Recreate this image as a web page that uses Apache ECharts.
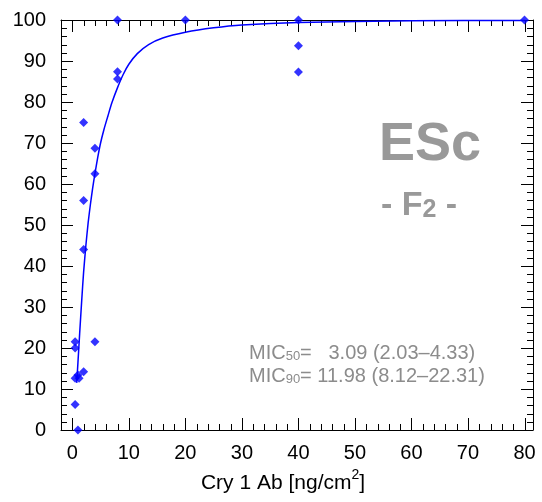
<!DOCTYPE html>
<html><head><meta charset="utf-8">
<script src="https://cdn.jsdelivr.net/npm/echarts@6/dist/echarts.min.js"></script>
<style>html,body{margin:0;padding:0;background:#fff}#c{width:542px;height:502px}</style>
</head><body><div id="c"></div>
<script>
// observed points
const pointX = [0.5, 0.5, 0.5, 0.5, 1, 1.2, 1, 2, 2, 2, 2, 4, 4, 4, 8, 8, 8, 20, 40, 40, 40, 80];
const pointY = [21.5, 20, 12.6, 6.2, 13.4, 12.6, 0, 75, 56, 44, 14.2, 68.7, 62.5, 21.5, 100, 87.4, 85.6, 100, 100, 93.7, 87.3, 100];
// fitted curve
const curveX = [0.78, 1.0, 1.3, 1.66, 2.0, 2.4, 2.8, 3.2, 3.6, 4.0, 4.5, 5.0, 5.6, 6.3, 7.0, 8.0, 9.0, 10.0, 11.5, 13.5, 16, 20, 25, 30, 40, 60, 80];
const curveY = [11.5, 16.5, 23.5, 31.5, 38.5, 45, 50.5, 55, 59, 62.5, 66.5, 70, 73.3, 76.6, 79.8, 83.5, 86.7, 89.2, 91.8, 94, 95.6, 97, 98.1, 98.8, 99.4, 99.8, 99.9];
// tick labels
const xTickLabels = [0, 10, 20, 30, 40, 50, 60, 70, 80];
const yTickLabels = [0, 10, 20, 30, 40, 50, 60, 70, 80, 90, 100];
const minorPerMajor = 5;

// tick marks on all four sides (value, side, isMajor); side: 0 bottom, 1 top, 2 left, 3 right
function minors(majors) {
  const out = [];
  for (let i = 0; i < majors.length - 1; i++)
    for (let k = 1; k < minorPerMajor; k++)
      out.push(majors[i] + k * (majors[i + 1] - majors[i]) / minorPerMajor);
  return out;
}
const tickData = [];
[0, 1].forEach(side => {
  xTickLabels.forEach(v => tickData.push([v, side, 1]));
  minors(xTickLabels).forEach(v => tickData.push([v, side, 0]));
});
[2, 3].forEach(side => {
  yTickLabels.forEach(v => tickData.push([v, side, 1]));
  minors(yTickLabels).forEach(v => tickData.push([v, side, 0]));
});

const FONT = '"Liberation Sans", Arial, Helvetica, sans-serif';
const chart = echarts.init(document.getElementById('c'), null, {renderer: 'canvas'});

function xAx(pos, labels) {
  return {
    type: 'value', min: -2, max: 81.5, splitNumber: 8, position: pos,
    axisLine: {show: true, onZero: false, lineStyle: {color: '#000', width: 1}},
    axisTick: {show: false},
    minorTick: {show: false},
    splitLine: {show: false},
    axisLabel: {show: labels, fontSize: 20, color: '#000', fontFamily: FONT, margin: 13,
      formatter: v => xTickLabels.includes(v) ? String(v) : ''}
  };
}
function yAx(pos, labels) {
  return {
    type: 'value', min: 0, max: 100, interval: 10, position: pos,
    axisLine: {show: true, onZero: false, lineStyle: {color: '#000', width: 1}},
    axisTick: {show: false},
    minorTick: {show: false},
    splitLine: {show: false},
    axisLabel: {show: labels, fontSize: 20, color: '#000', fontFamily: FONT, margin: 15,
      padding: [6, 0, 0, 0],
      formatter: v => yTickLabels.includes(v) ? String(v) : ''}
  };
}

function renderTick(params, api) {
  const cs = params.coordSys;
  const v = api.value(0), side = api.value(1), len = api.value(2) ? 12 : 6;
  let shape;
  if (side === 0 || side === 1) {
    const px = Math.round(api.coord([v, 50])[0]) + 0.5;
    const yEdge = side === 0 ? cs.y + cs.height : cs.y;
    shape = {x1: px, y1: yEdge, x2: px, y2: side === 0 ? yEdge - len : yEdge + len};
  } else {
    const py = Math.round(api.coord([40, v])[1]) + 0.5;
    const xEdge = side === 2 ? cs.x : cs.x + cs.width;
    shape = {x1: xEdge, y1: py, x2: side === 2 ? xEdge + len : xEdge - len, y2: py};
  }
  return {type: 'line', shape: shape, silent: true, style: {stroke: '#000', lineWidth: 1}};
}

chart.setOption({
  animation: false,
  backgroundColor: '#fff',
  grid: {left: 61, right: 9, top: 20, bottom: 72},
  xAxis: [xAx('bottom', true), xAx('top', false)],
  yAxis: [yAx('left', true), yAx('right', false)],
  series: [
    {
      type: 'custom', data: tickData, renderItem: renderTick, silent: true, clip: false,
      encode: {x: 0, y: 1}
    },
    {
      type: 'line', data: curveX.map((x, i) => [x, curveY[i]]),
      showSymbol: false, smooth: 0.25, clip: false,
      lineStyle: {color: '#0000ff', width: 1.5}
    },
    {
      type: 'scatter', data: pointX.map((x, i) => [x, pointY[i]]),
      symbol: 'diamond', symbolSize: 9, clip: false,
      itemStyle: {color: '#0000ff'}
    }
  ],
  graphic: [
    {type: 'text', x: 430, y: 145,
      style: {text: 'ESc', fontSize: 54, fontWeight: 'bold', fontFamily: FONT, fill: '#999999',
        align: 'center', verticalAlign: 'middle'}},
    {type: 'text', x: 419, y: 223,
      style: {text: '{a|- F}{s|2}{a| -}', fontFamily: FONT, fill: '#999999', align: 'center', verticalAlign: 'bottom',
        rich: {
          a: {fontSize: 34, fontWeight: 'bold', fontFamily: FONT, fill: '#999999', verticalAlign: 'bottom'},
          s: {fontSize: 25, fontWeight: 'bold', fontFamily: FONT, fill: '#999999', verticalAlign: 'bottom'}
        }}},
    {type: 'text', x: 249, y: 363,
      style: {text: '{m|MIC}{s|50}{m|=   3.09 (2.03\u20134.33)}', fontFamily: FONT, fill: '#8c8c8c',
        align: 'left', verticalAlign: 'bottom',
        rich: {
          m: {fontSize: 20, fontFamily: FONT, fill: '#8c8c8c', verticalAlign: 'bottom'},
          s: {fontSize: 13, fontFamily: FONT, fill: '#8c8c8c', verticalAlign: 'bottom'}
        }}},
    {type: 'text', x: 249, y: 386,
      style: {text: '{m|MIC}{s|90}{m|= 11.98 (8.12\u201322.31)}', fontFamily: FONT, fill: '#8c8c8c',
        align: 'left', verticalAlign: 'bottom',
        rich: {
          m: {fontSize: 20, fontFamily: FONT, fill: '#8c8c8c', verticalAlign: 'bottom'},
          s: {fontSize: 13, fontFamily: FONT, fill: '#8c8c8c', verticalAlign: 'bottom'}
        }}},
    {type: 'text', x: 283, y: 494,
      style: {text: '{m|Cry 1 Ab [ng/cm}{p|2}{m|]}', fontFamily: FONT, fill: '#000',
        align: 'center', verticalAlign: 'bottom',
        rich: {
          m: {fontSize: 21, fontFamily: FONT, fill: '#000', verticalAlign: 'bottom'},
          p: {fontSize: 14, fontFamily: FONT, fill: '#000', verticalAlign: 'bottom', padding: [0, 0, 12, 0]}
        }}}
  ]
});
</script>
</body></html>
